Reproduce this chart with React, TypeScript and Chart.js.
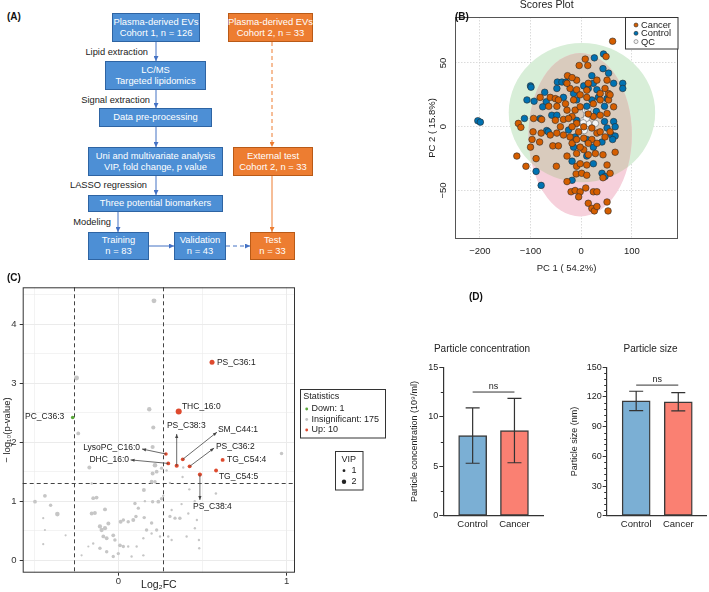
import React, { useEffect, useRef } from 'react';
import { Chart, registerables } from 'chart.js';
Chart.register(...registerables);

const FONT = '"Liberation Sans", Arial, Helvetica, sans-serif';
Chart.defaults.font.family = FONT;
Chart.defaults.color = '#222';

// ---------------- Panel B : PCA scores ----------------
const pcaCancer: number[][] = [
  [62, 67], [8, 53], [-4, 48], [13, 48], [49, 55], [-27, 40], [-9, 36.5], [-22, 30], [-9, 29], [-81, 23],
  [-61, 23], [-51, 22], [-45, 21], [-64, 16], [-48, 16], [-94, 6.5], [-78, 5.7], [-51, 5], [-35, 5.7], [-124, 2.6],
  [-119, -0.5], [-95, -4], [-79, -5], [-61, -6.5], [-48, -5], [-35, -6.5], [-97, -10], [-82, -12], [-56, -15], [-45, -15],
  [-100, -16], [-127, -23], [-89, -25], [-109, -31], [-49, -31], [-28, -23], [-9, -21], [5, -18], [14, -22], [28, -21],
  [43, -22], [67, -20], [-9, -31], [-2, -29], [11, -30], [51, -30], [-28, -43], [-10, -37], [1, -36.5], [11, -38],
  [57, -36.5], [43, -40], [-20, -51], [-12, -50], [-2, -51], [-5, -55], [9, -48], [24, -51], [31, -51], [14, -60],
  [21, -64], [26, -66], [31, -62.5], [51, -59], [53, -66], [-15, 21], [-12, 13], [-2, 15.6], [-18, 8], [-9, 2.6],
  [5, 0], [21, -1], [31, -5], [37.5, -4], [47, -8], [57, -4], [24, 8], [37.5, 9], [51, 10.4], [64, 15.6],
  [54, 21], [37.5, 21], [24, 18], [11, 23], [31, 36.5], [51, 36.5], [14, 34], [-2, 25], [14, 10], [-28, 13],
  [-31, 18], [-25, 6.5], [-41, 0], [-22, -8], [-18, -13], [-9, -10], [5, -9], [21, -10], [31, -13], [14, -13],
  [-2, -16], [-5, -4], [-18, 0], [54, 26], [57, 25], [-28, 34], [-18, 38.5], [37.5, 26], [47, 30], [11, 28.6],
];
const pcaControl: number[][] = [
  [-204, 4.7], [-199, 3.6], [-100, 32], [-99, 31], [-107, 21], [-93, 20], [-112, 6.5], [-72, 27], [-69, 19.5], [-76, 15.6],
  [-81, 6.5], [-68, -3], [-65, -4], [-58, 9], [-48, 9], [-47, 35], [-38, 35], [-30, 35], [-48, 30], [-35, 23],
  [-25, -2.6], [-15, 26], [-12, -8], [5, 32], [14, 30], [24, 34], [26, 54], [21, 40], [44, 57], [43, 45.5],
  [54, 42], [64, 34], [82, 34], [82, 30], [31, 29], [34, 23], [51, 22], [46, 16], [30, 12], [64, 4],
  [67, 0], [60, -6.5], [67, -7.3], [62, -10], [41, -12], [24, -16], [11, -23], [24, -29], [-18, -27], [-18, -42],
  [41, -36.5], [47, -39], [-89, -35], [-79, -46], [11, 16], [21, 21], [-9, 21], [-9, 5], [11, -10], [-15, -16],
  [46, 4], [51, -1],
];
const pcaQC: number[][] = [
  [9, 13], [11, 9], [5, 5], [1, 1.3], [8, 0], [14, 2.6], [-2, -1.3], [10, 6.5], [13, 13.5], [28, 2.6], [4, 3], [6, -3],
];
const pcaXTicks = [-200, -100, 0, 100];
const pcaYTicks = [-50, 0, 50];
const pcaXRange = [-249, 191];
const pcaYRange = [-88, 86];
// 95% ellipses: [centre PC1, centre PC2, semi-axis PC1, semi-axis PC2]
const ellipseControl = [1.5, 11, 144.5, 54.6];
const ellipseCancer = [-2, -6.3, 102, 64];

// ---------------- Panel C : volcano ----------------
// [log2FC, -log10 p, VIP]
const volInsig: number[][] = [
  [0.212, 4.40, 2.2], [-0.248, 3.09, 2.2], [-0.238, 2.15, 1.5], [0.184, 2.56, 1.9], [0.208, 2.25, 1.7],
  [0.204, 1.92, 1.7], [0.218, 1.61, 2.0], [0.204, 1.47, 1.6], [0.198, 1.33, 1.6], [0.257, 1.56, 1.2],
  [0.287, 1.52, 0.6], [0.386, 1.57, 0.6], [0.382, 1.41, 0.6], [0.307, 1.31, 0.6], [0.422, 1.20, 0.6],
  [0.580, 1.13, 0.7], [0.970, 1.81, 1.3], [-0.172, 1.57, 1.6], [-0.158, 1.30, 0.6], [-0.495, 0.99, 1.5],
  [-0.436, 1.09, 1.5], [-0.402, 0.93, 1.3], [-0.362, 0.78, 2.0], [-0.446, 0.71, 0.5], [-0.436, 0.51, 0.5],
  [-0.446, 0.27, 0.5], [-0.313, 0.42, 0.5], [-0.218, 0.08, 0.5], [-0.178, 0.23, 0.5], [-0.149, 1.05, 1.5],
  [-0.129, 1.06, 1.5], [-0.158, 0.79, 1.6], [-0.139, 0.80, 1.6], [-0.079, 0.86, 1.6], [-0.109, 0.57, 1.8],
  [-0.099, 0.51, 1.8], [-0.079, 0.54, 1.8], [-0.059, 0.62, 1.6], [-0.089, 0.40, 1.5], [-0.069, 0.37, 1.5],
  [-0.030, 0.42, 1.5], [-0.020, 0.34, 1.3], [0.014, 0.65, 1.6], [0.030, 0.68, 1.3], [0.059, 0.65, 1.3],
  [0.089, 0.68, 1.6], [0.099, 0.96, 1.3], [0.119, 0.88, 1.2], [0.152, 1.19, 1.6], [0.154, 0.72, 1.3],
  [0.105, 0.74, 1.3], [0.168, 0.51, 1.3], [0.198, 0.63, 1.3], [0.228, 0.51, 1.2], [0.248, 0.40, 0.6],
  [0.198, 0.45, 0.6], [0.149, 0.37, 0.6], [0.109, 0.23, 0.6], [0.030, 0.23, 1.2], [0.000, 0.11, 1.2],
  [-0.030, 0.06, 1.2], [-0.069, 0.14, 1.3], [-0.109, 0.20, 1.3], [-0.149, 0.28, 0.6], [0.059, 0.23, 0.6],
  [0.079, 0.06, 0.6], [0.149, 0.08, 0.6], [0.010, 0.25, 1.5], [0.204, 0.99, 1.3], [0.238, 0.99, 1.5],
  [0.257, 1.04, 1.3], [0.317, 0.85, 0.6], [0.307, 0.74, 1.2], [0.337, 0.71, 1.2], [0.366, 0.71, 1.3],
  [0.297, 0.40, 0.6], [0.317, 0.34, 0.6], [0.406, 0.40, 0.6], [0.416, 0.79, 0.6], [0.455, 0.54, 0.6],
  [0.481, 0.20, 0.6], [0.267, 1.09, 0.6], [0.376, 0.95, 0.6], [0.228, 1.50, 1.5], [0.218, 1.33, 1.3],
  [0.454, 1.00, 0.6], [0.617, 0.96, 0.6], [0.467, 0.68, 0.6], [0.479, 0.34, 0.6], [0.158, 1.00, 0.6],
];
const volUp: number[][] = [
  [0.557, 3.356, 2.25], [0.359, 2.52, 2.9], [0.283, 1.80, 1.4], [0.297, 1.64, 1.5], [0.347, 1.60, 1.7],
  [0.383, 1.71, 1.5], [0.424, 1.59, 1.6], [0.620, 1.70, 1.6], [0.581, 1.52, 1.5], [0.485, 1.45, 1.7],
];
const volUpNames = ['PS_C36:1', 'THC_16:0', 'LysoPC_C16:0', 'DHC_16:0', 'PS_C38:3', 'SM_C44:1', 'PS_C36:2', 'TG_C54:4', 'TG_C54:5', 'PS_C38:4'];
const volDown: number[][] = [[-0.271, 2.42, 1.4]];
const volDownNames = ['PC_C36:3'];
const volCounts = { down: 1, insignificant: 175, up: 10 };
const fcCut = 0.263;
const pCut = 1.301;
const volXTicks = [-0.5, 0, 0.5, 1];
const volYTicks = [0, 0.5, 1, 1.5, 2, 2.5, 3, 3.5, 4, 4.5];
const volXRange = [-0.568, 1.05];
const volYRange = [-0.215, 4.63];
// text label placement (data units) and optional arrow tip
const volLabelPlace: Record<string, any> = {
  'PS_C36:1': { x: 0.586, y: 3.35, align: 'left' },
  'THC_16:0': { x: 0.378, y: 2.61, align: 'left' },
  'LysoPC_C16:0': { x: 0.129, y: 1.90, align: 'right', tip: [0.141, 1.885] },
  'DHC_16:0': { x: 0.064, y: 1.70, align: 'right', tip: [0.073, 1.70] },
  'PS_C38:3': { x: 0.289, y: 2.275, align: 'left', tip: [0.347, 2.14] },
  'SM_C44:1': { x: 0.592, y: 2.21, align: 'left', tip: [0.586, 2.17] },
  'PS_C36:2': { x: 0.580, y: 1.92, align: 'left', tip: [0.569, 1.90] },
  'TG_C54:4': { x: 0.646, y: 1.70, align: 'left' },
  'TG_C54:5': { x: 0.598, y: 1.41, align: 'left' },
  'PS_C38:4': { x: 0.444, y: 0.90, align: 'left', tip: [0.485, 1.02] },
  'PC_C36:3': { x: -0.554, y: 2.43, align: 'left' },
};

// ---------------- Panel D : particle characterisation ----------------
const groups = ['Control', 'Cancer'];
const concMean = [8.1, 8.6];
const concLow = [5.3, 5.35];
const concHigh = [10.9, 11.85];
const sizeMean = [116, 115];
const sizeLow = [106.3, 106];
const sizeHigh = [125.8, 124.5];

const vipR = (v: number) => 0.7 + 0.8 * v;
const minus = (v: number) => (v < 0 ? '\u2212' + Math.abs(v) : String(v));

// ---------------- plugins ----------------
const pcaPlugin = {
  id: 'pcaExtras',
  beforeDatasetsDraw(chart: any) {
    const { ctx, chartArea: ca, scales: { x, y } } = chart;
    const path = (e: number[]) => {
      const cx = x.getPixelForValue(e[0]);
      const cy = y.getPixelForValue(e[1]);
      const rx = Math.abs(x.getPixelForValue(e[0] + e[2]) - cx);
      const ry = Math.abs(y.getPixelForValue(e[1] + e[3]) - cy);
      ctx.beginPath();
      ctx.ellipse(cx, cy, rx, ry, 0, 0, Math.PI * 2);
    };
    ctx.save();
    ctx.beginPath();
    ctx.rect(ca.left, ca.top, ca.width, ca.height);
    ctx.clip();
    path(ellipseControl); ctx.fillStyle = 'rgb(216,238,216)'; ctx.fill();
    path(ellipseCancer); ctx.fillStyle = 'rgb(246,208,219)'; ctx.fill();
    ctx.save();
    path(ellipseControl); ctx.clip();
    path(ellipseCancer); ctx.fillStyle = 'rgb(217,203,189)'; ctx.fill();
    ctx.restore();
    ctx.restore();
  },
  afterDraw(chart: any) {
    const { ctx, chartArea: ca, scales: { y } } = chart;
    ctx.save();
    ctx.strokeStyle = '#555';
    ctx.lineWidth = 1;
    ctx.strokeRect(ca.left + 0.5, ca.top + 0.5, ca.width - 1, ca.height - 1);
    ctx.fillStyle = '#222';
    ctx.font = `9.5px ${FONT}`;
    ctx.textAlign = 'center';
    ctx.textBaseline = 'middle';
    pcaYTicks.forEach((v) => {
      ctx.save();
      ctx.translate(ca.left - 11.5, y.getPixelForValue(v));
      ctx.rotate(-Math.PI / 2);
      ctx.fillText(minus(v), 0, 0);
      ctx.restore();
    });
    ctx.font = `10.5px ${FONT}`;
    ctx.fillText('Scores Plot', 126.7, 5.5);
    // legend
    const lx = ca.right - 53;
    ctx.fillStyle = '#fff';
    ctx.fillRect(lx, ca.top, 53, 32);
    ctx.strokeStyle = '#333';
    ctx.strokeRect(lx + 0.5, ca.top + 0.5, 52.5, 31.5);
    ctx.font = `9.3px ${FONT}`;
    ctx.textAlign = 'left';
    chart.data.datasets.forEach((ds: any, i: number) => {
      const yy = ca.top + 8 + i * 8.3;
      ctx.beginPath();
      ctx.arc(lx + 11, yy, 2, 0, Math.PI * 2);
      ctx.fillStyle = ds.backgroundColor;
      ctx.fill();
      ctx.lineWidth = 0.6;
      ctx.strokeStyle = ds.borderColor;
      ctx.stroke();
      ctx.fillStyle = '#222';
      ctx.fillText(ds.label, lx + 16, yy + 0.5);
    });
    ctx.restore();
  },
};

function arrow(ctx: any, x1: number, y1: number, x2: number, y2: number) {
  ctx.beginPath();
  ctx.moveTo(x1, y1);
  ctx.lineTo(x2, y2);
  ctx.stroke();
  const a = Math.atan2(y2 - y1, x2 - x1);
  ctx.beginPath();
  ctx.moveTo(x2, y2);
  ctx.lineTo(x2 - 4 * Math.cos(a) + 1.6 * Math.sin(a), y2 - 4 * Math.sin(a) - 1.6 * Math.cos(a));
  ctx.lineTo(x2 - 4 * Math.cos(a) - 1.6 * Math.sin(a), y2 - 4 * Math.sin(a) + 1.6 * Math.cos(a));
  ctx.closePath();
  ctx.fill();
}

const volPlugin = {
  id: 'volExtras',
  beforeDatasetsDraw(chart: any) {
    const { ctx, chartArea: ca, scales: { x, y } } = chart;
    ctx.save();
    ctx.strokeStyle = '#444';
    ctx.lineWidth = 1;
    ctx.setLineDash([4, 3]);
    [-fcCut, fcCut].forEach((v) => {
      const px = Math.round(x.getPixelForValue(v)) + 0.5;
      ctx.beginPath(); ctx.moveTo(px, ca.top); ctx.lineTo(px, ca.bottom); ctx.stroke();
    });
    const py = Math.round(y.getPixelForValue(pCut)) + 0.5;
    ctx.beginPath(); ctx.moveTo(ca.left, py); ctx.lineTo(ca.right, py); ctx.stroke();
    ctx.restore();
  },
  afterDraw(chart: any) {
    const { ctx, chartArea: ca, scales: { x, y } } = chart;
    ctx.save();
    ctx.strokeStyle = '#333';
    ctx.lineWidth = 1;
    ctx.strokeRect(ca.left + 0.5, ca.top + 0.5, ca.width - 1, ca.height - 1);
    // labels
    ctx.font = `8.5px ${FONT}`;
    ctx.textBaseline = 'middle';
    const all = [
      ...volUp.map((p, i) => [volUpNames[i], p]),
      ...volDown.map((p, i) => [volDownNames[i], p]),
    ] as any[];
    all.forEach(([name, p]) => {
      const L = volLabelPlace[name];
      if (!L) return;
      ctx.fillStyle = '#222';
      ctx.textAlign = L.align;
      ctx.fillText(name, x.getPixelForValue(L.x), y.getPixelForValue(L.y));
      if (L.tip) {
        ctx.strokeStyle = '#444';
        ctx.fillStyle = '#444';
        ctx.lineWidth = 0.8;
        arrow(ctx, x.getPixelForValue(p[0]), y.getPixelForValue(p[1]), x.getPixelForValue(L.tip[0]), y.getPixelForValue(L.tip[1]));
      }
    });
    // Statistics legend
    ctx.strokeStyle = '#333';
    ctx.lineWidth = 1;
    ctx.strokeRect(300.5, 119.5, 85, 48.5);
    ctx.textAlign = 'left';
    ctx.font = `9px ${FONT}`;
    ctx.fillStyle = '#222';
    ctx.fillText('Statistics', 303.3, 127);
    const items = [
      ['#5AA83A', `Down: ${volCounts.down}`],
      ['#C4C4C4', `Insignificant: ${volCounts.insignificant}`],
      ['#DE4A2E', `Up: ${volCounts.up}`],
    ];
    items.forEach(([c, t], i) => {
      const yy = 139 + i * 10.5;
      ctx.beginPath(); ctx.arc(306.7, yy, 1.4, 0, Math.PI * 2); ctx.fillStyle = c; ctx.fill();
      ctx.fillStyle = '#222';
      ctx.fillText(t, 311.5, yy);
    });
    // VIP legend
    ctx.strokeRect(335.5, 181.5, 27.5, 38.5);
    ctx.fillText('VIP', 341.5, 189.5);
    [1, 2].forEach((v, i) => {
      const yy = 200.7 + i * 11;
      ctx.beginPath(); ctx.arc(344, yy, vipR(v) - 0.1, 0, Math.PI * 2); ctx.fillStyle = '#222'; ctx.fill();
      ctx.fillText(String(v), 351.5, yy);
    });
    ctx.restore();
  },
};

const barPlugin = {
  id: 'barExtras',
  afterDatasetsDraw(chart: any, _a: any, o: any) {
    const { ctx, chartArea: ca, scales: { x, y } } = chart;
    ctx.save();
    ctx.strokeStyle = '#333';
    ctx.lineWidth = 1.2;
    o.lows.forEach((lo: number, i: number) => {
      const px = x.getPixelForValue(i + 1);
      const a = y.getPixelForValue(lo);
      const b = y.getPixelForValue(o.highs[i]);
      ctx.beginPath();
      ctx.moveTo(px, a); ctx.lineTo(px, b);
      ctx.moveTo(px - 7, a); ctx.lineTo(px + 7, a);
      ctx.moveTo(px - 7, b); ctx.lineTo(px + 7, b);
      ctx.stroke();
    });
    const by = y.getPixelForValue(o.nsY);
    const x1 = x.getPixelForValue(1);
    const x2 = x.getPixelForValue(2);
    ctx.lineWidth = 1;
    ctx.beginPath(); ctx.moveTo(x1, by); ctx.lineTo(x2, by); ctx.stroke();
    ctx.fillStyle = '#222';
    ctx.font = `9px ${FONT}`;
    ctx.textAlign = 'center';
    ctx.textBaseline = 'bottom';
    ctx.fillText('ns', (x1 + x2) / 2, by - 1.5);
    // minor ticks
    ctx.lineWidth = 1;
    for (let v = 0; v <= o.max + 1e-9; v += o.minor) {
      if (Math.abs(v / o.major - Math.round(v / o.major)) < 1e-6) continue;
      const py = Math.round(y.getPixelForValue(v)) + 0.5;
      ctx.beginPath(); ctx.moveTo(ca.left - 2.5, py); ctx.lineTo(ca.left, py); ctx.stroke();
    }
    ctx.font = `10px ${FONT}`;
    ctx.textBaseline = 'middle';
    ctx.fillText(o.title, o.titleX, 9);
    ctx.restore();
  },
};

// ---------------- components ----------------
function useChart(factory: (c: HTMLCanvasElement) => any) {
  const ref = useRef<HTMLCanvasElement>(null);
  useEffect(() => {
    const ch = factory(ref.current as HTMLCanvasElement);
    return () => ch.destroy();
  }, []);
  return ref;
}

function PcaChart() {
  const ref = useChart((c) =>
    new Chart(c, {
      type: 'scatter',
      data: {
        datasets: [
          { label: 'Cancer', data: pcaCancer.map(([x, y]) => ({ x, y })), backgroundColor: '#D55E00', borderColor: '#2a2a2a', borderWidth: 0.6, pointRadius: 3.3 },
          { label: 'Control', data: pcaControl.map(([x, y]) => ({ x, y })), backgroundColor: '#0072B2', borderColor: '#2a2a2a', borderWidth: 0.6, pointRadius: 3.3 },
          { label: 'QC', data: pcaQC.map(([x, y]) => ({ x, y })), backgroundColor: '#F4F4F4', borderColor: '#6a6a6a', borderWidth: 0.6, pointRadius: 3.3 },
        ],
      },
      options: {
        responsive: false,
        animation: false,
        layout: { padding: { top: 17, right: 31, left: 0, bottom: 0 } },
        plugins: { legend: { display: false }, tooltip: { enabled: false } },
        scales: {
          x: {
            type: 'linear', min: pcaXRange[0], max: pcaXRange[1],
            afterBuildTicks: (s: any) => { s.ticks = pcaXTicks.map((v) => ({ value: v })); },
            afterFit: (s: any) => { s.height = 46; },
            grid: { color: '#D2D2D2', lineWidth: 0.8, drawTicks: false },
            border: { display: false, dash: [1.5, 1.5] },
            ticks: { padding: 7, font: { size: 9.5 }, color: '#222', callback: (v: any) => minus(v), autoSkip: false, maxRotation: 0 },
            title: { display: true, text: 'PC 1 ( 54.2%)', font: { size: 9.5 }, color: '#222', padding: { top: 0, bottom: 11.3 } },
          },
          y: {
            type: 'linear', min: pcaYRange[0], max: pcaYRange[1],
            afterBuildTicks: (s: any) => { s.ticks = pcaYTicks.map((v) => ({ value: v })); },
            afterFit: (s: any) => { s.width = 35; },
            grid: { color: '#D2D2D2', lineWidth: 0.8, drawTicks: false },
            border: { display: false, dash: [1.5, 1.5] },
            ticks: { display: false },
            title: { display: true, text: 'PC 2 ( 15.8%)', font: { size: 9.5 }, color: '#222', padding: { top: 6.3, bottom: 0 } },
          },
        },
      },
      plugins: [pcaPlugin],
    } as any)
  );
  return <canvas ref={ref} width={289} height={285} style={{ position: 'absolute', left: 420, top: 0, width: 289, height: 285 }} />;
}

function VolcanoChart() {
  const isMajor = (c: any) => c.tick && Math.abs(c.tick.value - Math.round(c.tick.value)) < 1e-6;
  const axisCommon = {
    grid: {
      color: '#EBEBEB',
      lineWidth: (c: any) => (isMajor(c) ? 1 : 0.6),
      drawTicks: true,
      tickLength: 3,
      tickColor: (c: any) => (isMajor(c) ? '#333' : 'rgba(0,0,0,0)'),
      tickWidth: 1,
    },
    border: { display: false },
  };
  const ref = useChart((c) =>
    new Chart(c, {
      type: 'scatter',
      data: {
        datasets: [
          { label: 'Insignificant', data: volInsig.map(([x, y]) => ({ x, y })), backgroundColor: '#C6C6C6', borderWidth: 0, pointRadius: volInsig.map((p) => vipR(p[2])) },
          { label: 'Down', data: volDown.map(([x, y]) => ({ x, y })), backgroundColor: '#5AA83A', borderWidth: 0, pointRadius: volDown.map((p) => vipR(p[2])) },
          { label: 'Up', data: volUp.map(([x, y]) => ({ x, y })), backgroundColor: '#DE4A2E', borderWidth: 0, pointRadius: volUp.map((p) => vipR(p[2])) },
        ],
      },
      options: {
        responsive: false,
        animation: false,
        layout: { padding: { top: 17.3, right: 100, left: 0, bottom: 0 } },
        plugins: { legend: { display: false }, tooltip: { enabled: false } },
        scales: {
          x: {
            ...axisCommon,
            type: 'linear', min: volXRange[0], max: volXRange[1],
            afterBuildTicks: (s: any) => { s.ticks = volXTicks.map((v) => ({ value: v })); },
            afterFit: (s: any) => { s.height = 19.3; },
            ticks: { padding: 0.3, font: { size: 9.5 }, color: '#333', autoSkip: false, maxRotation: 0, callback: (v: any) => (Number.isInteger(v) ? String(v) : '') },
            title: { display: true, text: 'Log\u2082FC', font: { size: 10.5 }, color: '#222', padding: { top: 0, bottom: 0.7 } },
          },
          y: {
            ...axisCommon,
            type: 'linear', min: volYRange[0], max: volYRange[1],
            afterBuildTicks: (s: any) => { s.ticks = volYTicks.map((v) => ({ value: v })); },
            afterFit: (s: any) => { s.width = 22.7; },
            ticks: { padding: 3.2, font: { size: 9.5 }, color: '#333', autoSkip: false, callback: (v: any) => (Number.isInteger(v) ? String(v) : '') },
            title: { display: true, text: '\u2212 log\u2081\u2080(p-value)', font: { size: 9.5 }, color: '#222', padding: { top: 1.3, bottom: 0 } },
          },
        },
      },
      plugins: [volPlugin],
    } as any)
  );
  return <canvas ref={ref} width={395} height={322} style={{ position: 'absolute', left: 0, top: 270, width: 395, height: 322 }} />;
}

function BarPanel(props: any) {
  const { means, lows, highs, yMax, major, minor, xMin, xMax, yTitle, yTitlePad, yWidth, padRight, left, width, title, titleX, nsY } = props;
  const ref = useChart((c) =>
    new Chart(c, {
      type: 'bar',
      data: {
        datasets: [{
          data: means.map((m: number, i: number) => ({ x: i + 1, y: m })),
          backgroundColor: ['#7BAFD4', '#FA8072'],
          borderColor: '#3a3a3a',
          borderWidth: 1.4,
          borderSkipped: false,
          barThickness: 28,
        }],
      },
      options: {
        responsive: false,
        animation: false,
        layout: { padding: { top: 27.3, right: padRight, left: 0, bottom: 0 } },
        plugins: {
          legend: { display: false }, tooltip: { enabled: false },
          barExtras: { lows, highs, nsY, max: yMax, major, minor, title, titleX },
        },
        scales: {
          x: {
            type: 'linear', min: xMin, max: xMax, offset: false,
            afterBuildTicks: (s: any) => { s.ticks = groups.map((_g, i) => ({ value: i + 1 })); },
            afterFit: (s: any) => { s.height = 24.3; },
            grid: { display: true, drawOnChartArea: false, drawTicks: false },
            border: { display: true, color: '#333', width: 1.2 },
            ticks: { padding: 2.6, font: { size: 9.5 }, color: '#222', autoSkip: false, maxRotation: 0, callback: (v: any) => groups[v - 1] },
          },
          y: {
            type: 'linear', min: 0, max: yMax,
            ticks: { stepSize: major, padding: 1, font: { size: 9 }, color: '#222' },
            afterFit: (s: any) => { s.width = yWidth; },
            grid: { drawOnChartArea: false, drawTicks: true, tickLength: 4, tickColor: '#333', tickWidth: 1 },
            border: { display: true, color: '#333', width: 1.2 },
            title: { display: true, text: yTitle, font: { size: 9 }, color: '#222', padding: { top: yTitlePad, bottom: 0 } },
          },
        },
      },
      plugins: [barPlugin],
    } as any)
  );
  return <canvas ref={ref} width={width} height={200} style={{ position: 'absolute', left, top: 340, width, height: 200 }} />;
}

const flowBoxes = [
  { t: ['Plasma-derived EVs', 'Cohort 1, n = 126'], x: 112, y: 13, w: 88, h: 29, o: false },
  { t: ['Plasma-derived EVs', 'Cohort 2, n = 33'], x: 228, y: 13, w: 85, h: 29, o: true },
  { t: ['LC/MS', 'Targeted lipidomics'], x: 105, y: 61, w: 101, h: 29, o: false },
  { t: ['Data pre-processing'], x: 99, y: 108, w: 113, h: 19, o: false },
  { t: ['Uni and multivariate analysis', 'VIP, fold change, p value'], x: 88, y: 147, w: 135, h: 29, o: false },
  { t: ['External test', 'Cohort 2, n = 33'], x: 233, y: 147, w: 80, h: 29, o: true },
  { t: ['Three potential biomarkers'], x: 88, y: 195, w: 135, h: 17, o: false },
  { t: ['Training', 'n = 83'], x: 88, y: 232, w: 61, h: 28, o: false },
  { t: ['Validation', 'n = 43'], x: 174, y: 232, w: 52, h: 28, o: false },
  { t: ['Test', 'n = 33'], x: 250, y: 232, w: 45, h: 28, o: true },
];
const flowSteps = [
  { t: 'Lipid extraction', r: 148, y: 52 },
  { t: 'Signal extraction', r: 150, y: 100 },
  { t: 'LASSO regression', r: 147, y: 185 },
  { t: 'Modeling', r: 111, y: 222 },
];

function Flowchart() {
  const B = '#4472C4';
  const O = '#ED7D31';
  return (
    <>
      <svg width={330} height={270} style={{ position: 'absolute', left: 0, top: 0 }}>
        <defs>
          <marker id="mb" markerWidth={5} markerHeight={5} refX={5} refY={2.5} orient="auto" markerUnits="userSpaceOnUse">
            <path d="M0,0 L5,2.5 L0,5 z" fill={B} />
          </marker>
          <marker id="mo" markerWidth={5} markerHeight={5} refX={5} refY={2.5} orient="auto" markerUnits="userSpaceOnUse">
            <path d="M0,0 L5,2.5 L0,5 z" fill={O} />
          </marker>
        </defs>
        {[[42, 61], [90, 108], [127, 147], [176, 195]].map(([a, b], i) => (
          <line key={i} x1={156} y1={a} x2={156} y2={b} stroke={B} strokeWidth={1} markerEnd="url(#mb)" />
        ))}
        <line x1={118} y1={212} x2={118} y2={232} stroke={B} strokeWidth={1} markerEnd="url(#mb)" />
        <line x1={149} y1={246} x2={174} y2={246} stroke={B} strokeWidth={1} markerEnd="url(#mb)" />
        <line x1={226} y1={246} x2={250} y2={246} stroke={B} strokeWidth={1} strokeDasharray="4 3" markerEnd="url(#mb)" />
        <line x1={272} y1={42} x2={272} y2={147} stroke={O} strokeWidth={1} strokeDasharray="4 3" markerEnd="url(#mo)" />
        <line x1={272} y1={176} x2={272} y2={232} stroke={O} strokeWidth={1} markerEnd="url(#mo)" />
      </svg>
      {flowBoxes.map((b, i) => (
        <div key={i} style={{
          position: 'absolute', left: b.x, top: b.y, width: b.w, height: b.h, boxSizing: 'border-box',
          background: b.o ? '#ED7D31' : '#4D8FD5', border: `1px solid ${b.o ? '#B95A17' : '#2E64A3'}`,
          color: '#fff', fontSize: 9.4, lineHeight: '10.7px', display: 'flex', flexDirection: 'column',
          alignItems: 'center', justifyContent: 'center', textAlign: 'center', whiteSpace: 'nowrap',
        }}>
          {b.t.map((l, j) => <div key={j}>{l}</div>)}
        </div>
      ))}
      {flowSteps.map((s, i) => (
        <div key={i} style={{ position: 'absolute', right: 709 - s.r, top: s.y - 6, fontSize: 9.3, lineHeight: '12px', color: '#222', whiteSpace: 'nowrap' }}>{s.t}</div>
      ))}
    </>
  );
}

export default function App() {
  const lab = (t: string, x: number, y: number) => (
    <div style={{ position: 'absolute', left: x, top: y, fontSize: 10, fontWeight: 'bold', lineHeight: '12px', color: '#111' }}>{t}</div>
  );
  return (
    <div style={{ position: 'absolute', left: 0, top: 0, width: 709, height: 592, background: '#fff', fontFamily: FONT, overflow: 'hidden' }}>
      <Flowchart />
      <PcaChart />
      <VolcanoChart />
      <BarPanel means={concMean} lows={concLow} highs={concHigh} yMax={15} major={5} minor={2.5}
        xMin={0.298} xMax={2.69} yTitle={'Particle concentration (10\u2079/ml)'} yTitlePad={4.6} yWidth={38.3}
        padRight={15.7} left={405} width={154} title="Particle concentration" titleX={77} nsY={12.5} />
      <BarPanel means={sizeMean} lows={sizeLow} highs={sizeHigh} yMax={150} major={30} minor={6}
        xMin={0.3} xMax={2.675} yTitle="Particle size (nm)" yTitlePad={9.6} yWidth={46.7}
        padRight={2.3} left={560} width={149} title="Particle size" titleX={90.5} nsY={132} />
      {lab('(A)', 7, 11)}
      {lab('(B)', 455, 11)}
      {lab('(C)', 7, 272)}
      {lab('(D)', 469, 291)}
    </div>
  );
}
